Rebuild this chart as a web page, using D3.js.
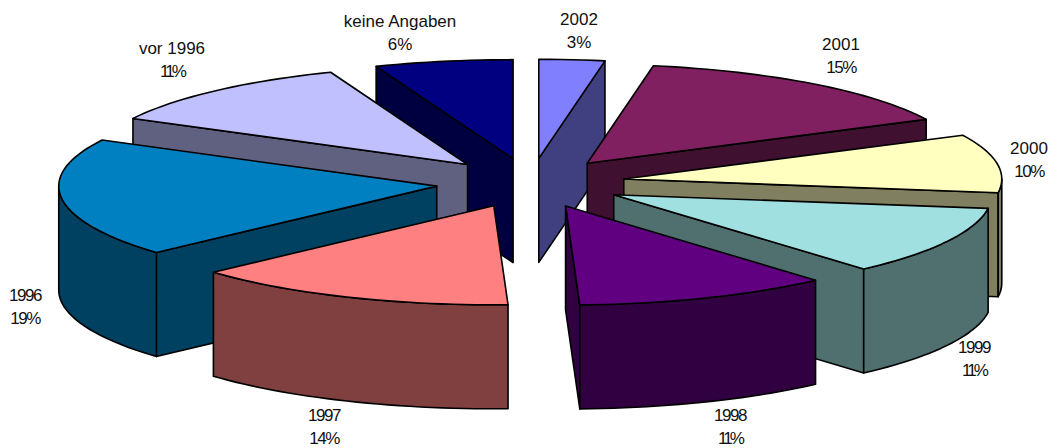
<!DOCTYPE html>
<html>
<head>
<meta charset="utf-8">
<script src="https://cdn.jsdelivr.net/npm/d3@7/dist/d3.min.js"></script>
<style>
  body { margin: 0; background: #fff; }
  text { font-family: "Liberation Sans", Arial, sans-serif; font-size: 17px; fill: #111; }
</style>
</head>
<body>
<div id="chart"></div>
<script>
const categories = ['2002', '2001', '2000', '1999', '1998', '1997', '1996', 'vor 1996', 'keine Angaben'];
const shares = [2.8, 14.9, 9.5, 11.3, 10.9, 13.9, 19.4, 11.4, 5.9];
const topColors = ['#8080ff', '#802060', '#ffffc0', '#a0e0e0', '#600080', '#ff8080', '#0080c0', '#c0c0ff', '#000080'];

// label centres, same order as categories
const labelX = [579, 841, 1029, 974, 730, 324, 25, 172, 400];
const labelY = [19, 44, 148, 347, 415, 415, 295, 48, 21];

const width = 1059;
const height = 448;
const centerX = 530.5;
const centerY = 183;
const radiusX = 378;
const radiusY = 99;
const depth = 104;
const explode = 0.25;

const svg = d3.select('#chart')
    .append('svg')
    .attr('width', width)
    .attr('height', height);

const x = d3.scaleLinear().domain([-1, 1]).range([centerX - radiusX, centerX + radiusX]);
const y = d3.scaleLinear().domain([-1, 1]).range([centerY - radiusY, centerY + radiusY]);
const line = d3.line();

const shade = c => {
    const rgb = d3.rgb(c);
    return d3.rgb(rgb.r / 2, rgb.g / 2, rgb.b / 2).formatHex();
};

const slices = d3.pie().sort(null).value(d => d)(shares).map((s, i) => {
    const mid = (s.startAngle + s.endAngle) / 2;
    return {
        ...s,
        i,
        dx: explode * Math.sin(mid),
        dy: -explode * Math.cos(mid)
    };
});

const apex = s => [x(s.dx), y(s.dy)];
const rim = (s, a) => [x(Math.sin(a) + s.dx), y(-Math.cos(a) + s.dy)];
const down = p => [p[0], p[1] + depth];
const arcPoints = (s, a0, a1) => {
    const n = Math.max(2, Math.ceil((a1 - a0) / 0.03));
    return d3.range(n + 1).map(k => rim(s, a0 + (a1 - a0) * k / n));
};
const poly = pts => line(pts) + 'Z';

// back slices first
const groups = svg.append('g').selectAll('g')
    .data(slices.slice().sort((a, b) => d3.ascending(a.dy, b.dy)))
    .enter()
    .append('g')
    .attr('stroke', '#000')
    .attr('stroke-width', 1.6)
    .attr('stroke-linejoin', 'round');

groups.each(function (s) {
    const g = d3.select(this);
    const top = topColors[s.i];
    const side = shade(top);
    const c = apex(s);

    // cut faces that look to the viewer
    if (Math.sin(s.startAngle) < 0) {
        const p = rim(s, s.startAngle);
        g.append('path').attr('d', poly([c, p, down(p), down(c)])).attr('fill', side);
    }
    if (Math.sin(s.endAngle) > 0) {
        const p = rim(s, s.endAngle);
        g.append('path').attr('d', poly([c, p, down(p), down(c)])).attr('fill', side);
    }

    // outer wall, front half only
    const a0 = Math.max(s.startAngle, Math.PI / 2);
    const a1 = Math.min(s.endAngle, Math.PI * 1.5);
    if (a1 > a0) {
        const upper = arcPoints(s, a0, a1);
        g.append('path').attr('d', poly(upper.concat(upper.map(down).reverse()))).attr('fill', side);
    }

    g.append('path')
        .attr('d', poly([c].concat(arcPoints(s, s.startAngle, s.endAngle))))
        .attr('fill', top);
});

// the source draws a leading 1 very tight
const tight = t => t.startsWith('11') ? '-3px' : t.startsWith('1') ? '-1.5px' : null;

const labels = svg.append('g').selectAll('text')
    .data(slices)
    .enter()
    .append('text')
    .attr('text-anchor', 'middle');

labels.append('tspan')
    .attr('x', d => labelX[d.i])
    .attr('y', d => labelY[d.i] + 6)
    .attr('letter-spacing', d => tight(categories[d.i]))
    .text(d => categories[d.i]);

labels.append('tspan')
    .attr('x', d => labelX[d.i])
    .attr('y', d => labelY[d.i] + 29)
    .attr('letter-spacing', d => tight(Math.round(d.value) + '%'))
    .text(d => Math.round(d.value) + '%');
</script>
</body>
</html>
